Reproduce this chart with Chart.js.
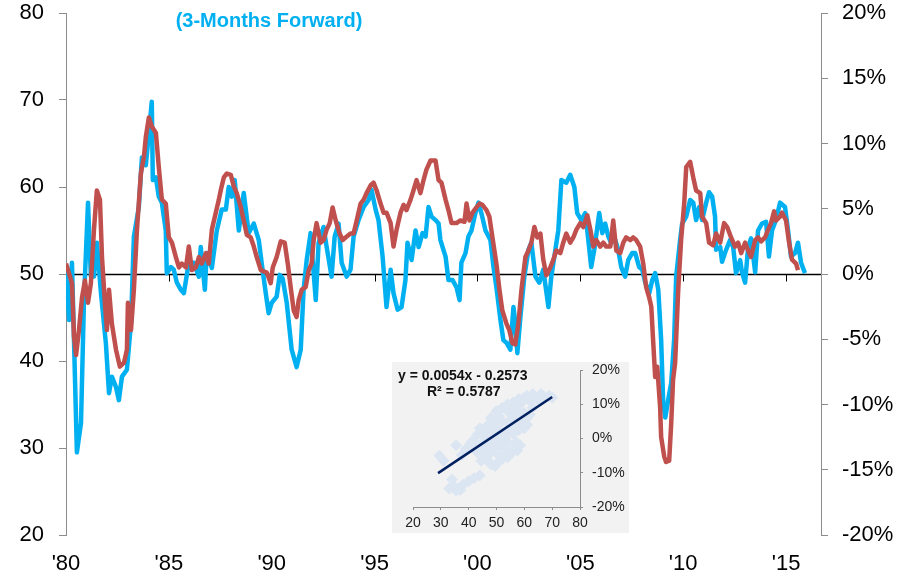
<!DOCTYPE html>
<meta charset="utf-8">
<head>
  <title>ISM 3-months forward vs growth</title>
  <style>
    html, body {
      margin: 0;
      padding: 0;
      background: #fff;
    }
    .container {
      position: relative;
      width: 917px;
      height: 578px;
    }
    #chart {
      position: absolute;
      left: 0;
      top: 0;
    }
    #inset {
      position: absolute;
      left: 392px;
      top: 362px;
      background: #f2f2f2;
    }
  </style>
</head>

<body>
  <div class="container">
    <canvas id="chart" width="917" height="578"></canvas>
    <canvas id="inset" width="237" height="171"></canvas>
  </div>

<script src="https://cdn.jsdelivr.net/npm/chart.js"></script>
<script>
  // blue line, left axis (index level), shifted 3 months forward
  var blueDates = [
    1980.00,1980.15,1980.29,1980.53,1980.73,1980.87,1981.07,1981.21,1981.36,1981.50,
    1981.70,1981.94,1982.09,1982.23,1982.43,1982.57,1982.72,1982.96,1983.16,1983.30,
    1983.54,1983.69,1983.88,1984.03,1984.17,1984.22,1984.37,1984.51,1984.66,1984.85,
    1984.90,1985.10,1985.24,1985.39,1985.58,1985.73,1985.97,1986.21,1986.46,1986.55,
    1986.75,1986.84,1987.09,1987.33,1987.57,1987.77,1987.91,1988.06,1988.20,1988.40,
    1988.64,1988.88,1989.13,1989.37,1989.51,1989.71,1989.85,1990.00,1990.24,1990.39,
    1990.53,1990.73,1990.97,1991.21,1991.41,1991.55,1991.70,1991.89,1992.14,1992.28,
    1992.52,1992.67,1992.91,1993.06,1993.25,1993.40,1993.64,1993.83,1993.98,1994.22,
    1994.47,1994.71,1994.85,1995.05,1995.19,1995.39,1995.58,1995.78,1995.92,1996.12,
    1996.31,1996.50,1996.60,1996.80,1996.99,1997.14,1997.33,1997.48,1997.62,1997.77,
    1997.96,1998.11,1998.20,1998.45,1998.59,1998.79,1998.98,1999.13,1999.22,1999.42,
    1999.56,1999.71,1999.90,2000.05,2000.19,2000.39,2000.63,2000.78,2000.92,2001.12,
    2001.26,2001.41,2001.60,2001.75,2001.84,2001.94,2002.09,2002.28,2002.48,2002.62,
    2002.82,2003.01,2003.20,2003.45,2003.59,2003.79,2003.93,2004.08,2004.32,2004.51,
    2004.71,2004.85,2005.05,2005.24,2005.39,2005.53,2005.68,2005.92,2006.07,2006.21,
    2006.36,2006.50,2006.70,2006.84,2006.99,2007.18,2007.33,2007.52,2007.67,2007.86,
    2008.01,2008.16,2008.35,2008.50,2008.64,2008.79,2008.93,2009.03,2009.13,2009.27,
    2009.42,2009.56,2009.66,2009.85,2009.95,2010.15,2010.34,2010.49,2010.63,2010.78,
    2010.92,2011.12,2011.26,2011.41,2011.55,2011.60,2011.80,2011.89,2012.09,2012.28,
    2012.43,2012.57,2012.77,2012.86,2013.01,2013.16,2013.30,2013.50,2013.64,2013.83,
    2014.03,2014.17,2014.32,2014.51,2014.71,2014.95,2015.10,2015.24,2015.44,2015.58,
    2015.73,2015.92
  ];
  var blueValues = [
    50.5,44.7,51.3,29.5,32.9,46.7,58.2,49.7,49.7,53.6,
    47.8,42.0,36.3,38.2,37.0,35.5,38.2,39.0,44.4,54.3,
    57.7,63.4,62.5,66.2,69.8,60.8,61.1,58.9,58.2,55.0,
    50.1,50.8,50.5,49.0,48.2,47.8,51.3,51.3,49.7,53.1,
    48.2,52.4,50.7,55.0,57.4,57.4,60.0,58.9,60.8,55.0,
    59.3,54.7,55.8,53.9,51.3,47.8,45.5,46.7,47.4,49.9,
    49.5,46.7,41.3,39.3,41.3,48.2,51.6,54.7,47.0,53.6,
    55.4,53.1,49.7,54.3,55.8,51.3,49.7,50.5,54.3,56.2,
    57.7,58.5,59.7,57.4,56.2,52.0,46.2,50.5,47.8,45.9,
    46.2,49.3,53.6,51.6,55.0,53.1,54.7,54.3,57.7,56.6,
    56.2,55.8,53.9,52.0,49.3,49.3,48.5,47.0,51.3,52.4,
    54.3,55.0,57.0,58.2,57.0,55.0,53.9,50.8,48.5,44.7,
    42.4,42.1,41.3,46.2,44.4,40.9,45.1,49.7,52.8,53.6,
    49.7,49.0,50.5,46.2,49.7,52.8,55.0,60.8,60.5,61.4,
    60.0,57.0,56.2,57.0,53.9,50.8,52.8,57.0,54.7,55.8,
    54.3,53.6,53.9,52.8,50.8,49.7,51.6,52.4,52.4,50.8,
    50.5,49.0,47.8,49.3,50.1,48.2,42.4,35.2,33.5,35.5,
    37.5,42.4,49.7,53.9,55.8,56.6,58.5,58.2,56.2,57.7,
    56.2,58.2,59.4,58.9,56.6,52.8,53.1,51.4,52.8,53.9,
    53.1,50.1,51.6,50.2,49.0,53.1,54.1,50.2,55.0,55.8,
    56.0,52.0,55.0,56.2,58.2,57.7,55.0,52.0,52.4,53.6,
    51.3,50.1
  ];

  // red line, right axis (% growth)
  var redDates = [
    1980.00,1980.10,1980.29,1980.39,1980.49,1980.63,1980.78,1980.92,1981.07,1981.21,
    1981.36,1981.50,1981.65,1981.75,1981.89,1981.99,1982.09,1982.23,1982.43,1982.62,
    1982.82,1982.96,1983.01,1983.16,1983.30,1983.45,1983.64,1983.79,1983.88,1984.03,
    1984.17,1984.37,1984.51,1984.66,1984.85,1985.00,1985.15,1985.34,1985.49,1985.63,
    1985.83,1985.97,1986.12,1986.31,1986.46,1986.60,1986.80,1986.94,1987.09,1987.28,
    1987.43,1987.52,1987.67,1987.82,1988.01,1988.16,1988.30,1988.50,1988.64,1988.79,
    1988.98,1989.13,1989.27,1989.47,1989.61,1989.76,1989.95,1990.05,1990.24,1990.44,
    1990.63,1990.78,1990.92,1991.07,1991.21,1991.31,1991.46,1991.65,1991.80,1991.94,
    1992.04,1992.18,1992.38,1992.52,1992.67,1992.82,1992.96,1993.11,1993.30,1993.45,
    1993.59,1993.83,1993.98,1994.13,1994.32,1994.47,1994.61,1994.81,1994.95,1995.10,
    1995.29,1995.44,1995.58,1995.78,1995.92,1996.07,1996.26,1996.41,1996.55,1996.75,
    1996.89,1997.04,1997.23,1997.38,1997.52,1997.72,1997.86,1997.96,1998.11,1998.25,
    1998.45,1998.59,1998.74,1998.98,1999.17,1999.37,1999.47,1999.61,1999.76,1999.95,
    2000.10,2000.24,2000.44,2000.58,2000.73,2000.92,2001.07,2001.21,2001.41,2001.55,
    2001.70,2001.84,2001.99,2002.14,2002.33,2002.48,2002.62,2002.77,2002.91,2003.06,
    2003.20,2003.35,2003.54,2003.69,2003.83,2004.03,2004.17,2004.32,2004.51,2004.66,
    2004.81,2005.00,2005.15,2005.34,2005.49,2005.63,2005.78,2005.97,2006.12,2006.26,
    2006.46,2006.60,2006.75,2006.94,2007.09,2007.23,2007.43,2007.57,2007.72,2007.91,
    2008.06,2008.20,2008.35,2008.45,2008.54,2008.64,2008.74,2008.88,2008.93,2009.08,
    2009.17,2009.32,2009.42,2009.51,2009.61,2009.76,2009.90,2010.05,2010.15,2010.34,
    2010.49,2010.63,2010.83,2010.92,2011.12,2011.26,2011.46,2011.60,2011.80,2011.99,
    2012.14,2012.33,2012.52,2012.67,2012.82,2013.01,2013.16,2013.30,2013.50,2013.64,
    2013.79,2013.98,2014.13,2014.27,2014.42,2014.51,2014.71,2014.81,2015.00,2015.15,
    2015.29,2015.49,2015.58
  ];
  var redValues = [
    0.8,0.3,-0.7,-4.8,-6.2,-4.3,-1.8,-0.5,-2.2,-0.7,
    3.4,6.4,5.7,1.3,-2.2,-4.3,-1.2,-3.8,-5.8,-7.1,
    -6.8,-5.8,-2.2,-4.3,-1.2,3.4,7.7,9.0,10.5,12.0,
    11.3,10.8,8.2,5.7,5.4,2.8,2.4,1.3,0.5,0.8,
    0.5,2.1,0.3,0.5,1.3,0.8,1.6,0.8,3.4,4.7,
    5.7,6.4,7.4,7.7,7.6,6.7,6.2,5.1,4.1,3.0,
    2.8,2.1,1.3,0.3,0.2,0.1,-0.7,0.5,1.3,2.5,
    2.4,0.8,-1.0,-2.8,-3.3,-2.0,-1.2,-1.0,0.3,0.8,
    2.6,3.9,2.4,2.6,3.4,3.9,5.1,4.1,3.1,2.6,
    2.8,3.1,3.1,4.1,5.4,5.7,6.2,6.8,7.0,6.4,
    5.4,4.7,4.7,3.9,2.1,3.4,4.7,5.3,4.9,5.7,
    6.4,7.2,6.2,7.2,8.0,8.7,8.7,8.7,7.2,7.0,
    5.7,4.9,3.9,3.9,4.1,4.0,5.4,4.1,4.7,5.1,
    5.4,5.3,4.9,4.4,2.8,0.8,-1.2,-2.8,-3.8,-4.3,
    -5.3,-5.4,-3.8,-1.2,1.3,1.8,2.4,3.6,2.8,3.1,
    1.1,-0.1,0.5,1.1,1.8,1.6,2.4,3.1,2.4,2.8,
    3.4,3.9,3.6,4.5,3.4,2.1,2.6,2.1,2.4,2.1,
    2.1,4.1,1.8,1.6,2.4,2.8,2.6,2.8,2.6,2.1,
    0.8,-1.0,-1.8,-2.5,-5.1,-7.9,-7.1,-10.2,-12.5,-14.0,
    -14.4,-14.3,-11.4,-8.1,-6.8,-1.2,2.6,5.4,8.2,8.6,
    7.4,6.4,6.2,4.4,3.9,2.4,2.2,3.1,2.4,3.9,
    3.6,2.8,2.1,2.4,1.6,2.4,1.8,1.3,2.6,2.8,
    2.5,2.8,3.4,3.9,4.8,4.1,4.4,4.7,4.1,2.4,
    1.1,0.8,0.3
  ];

  // inset scatter: index level (x) against % growth (y)
  var scatterX = [29.5,31,33,34.5,35.5,36.5,38,40,42,44,34,37,
    35.5,37.5,39,40.5,42,43,44,45,46.5,48,49.5,50.5,52,54,56,58.5,
    45,46,47.5,48,49,50,51,52,53,54,55,56,57,58,59,60,61,62,63,64,65,66,67,69,70,
    50,52,54,56,58,57,53,46,48,55,60,58,62,47,51,44.5,49,53.5,56.5,
    41,43,44,47,48,50,52,54,56,58,60,61,63,59,61,57,55,53,51,49,47,45,51,55,57.5];
  var scatterY = [-5,-6.5,-14.6,-13.8,-15.2,-14.5,-13.5,-12.5,-11.5,-10.8,-12,-15,
    -2,-4.8,-3,-2,-1,-4,-2,1,-6,-7.5,-8,-7,-6,-5.5,-3,-2,
    1,0,-1,2,4.5,3,6.5,5,2,8,4,7,9,5,10.5,3,4,11,9,12,11,13,12,12.5,12,
    0,1,-1,1.5,2.5,-1,-3,-3,-4,5.5,7.5,8,7,3,-2,-6.5,0.5,-4.5,5,
    -1,1,3,4,6,8,9,10,10.5,11.5,12,12.5,13,6,6,4,2,0,-2,-3,-2,-4,-5,-4.5,-3.5];
  var fitX = [29, 70];
  var fitY = [-10.1, 12.1];

  var FONT = "'Liberation Sans', Arial, sans-serif";
  var axisGrey = '#8c8c8c';

  function toPoints(xs, ys) {
    return xs.map(function(x, i) { return { x: x, y: ys[i] }; });
  }

  // keep the tick padding from pushing the plot area down
  function fixWidth(w, top) {
    return function(s) {
      s.width = w;
      s.paddingTop = top;
      s.paddingBottom = 0;
    };
  }

  // black line at 50 with the year ticks hanging from it
  var fiftyLine = {
    id: 'fiftyLine',
    beforeDatasetsDraw: function(chart) {
      var ctx = chart.ctx, area = chart.chartArea;
      var y = Math.round(chart.scales.y.getPixelForValue(50)) + 0.5;
      ctx.save();
      ctx.strokeStyle = '#000';
      ctx.lineWidth = 1.5;
      ctx.beginPath();
      ctx.moveTo(area.left, y);
      ctx.lineTo(area.right, y);
      ctx.stroke();
      ctx.lineWidth = 1;
      ctx.beginPath();
      chart.scales.x.ticks.forEach(function(t) {
        var x = Math.round(chart.scales.x.getPixelForValue(t.value)) + 0.5;
        ctx.moveTo(x, y);
        ctx.lineTo(x, y + 7);
      });
      ctx.stroke();
      ctx.restore();
    }
  };

  var headText = {
    id: 'headText',
    afterDraw: function(chart) {
      var ctx = chart.ctx;
      ctx.save();
      ctx.font = 'bold 20px ' + FONT;
      ctx.fillStyle = '#00b0f0';
      ctx.textAlign = 'center';
      ctx.textBaseline = 'middle';
      ctx.fillText('(3-Months Forward)', 269, 21);
      ctx.restore();
    }
  };

  var equationText = {
    id: 'equationText',
    afterDraw: function(chart) {
      var ctx = chart.ctx;
      ctx.save();
      ctx.font = 'bold 14px ' + FONT;
      ctx.fillStyle = '#111';
      ctx.textBaseline = 'alphabetic';
      ctx.fillText('y = 0.0054x - 0.2573', 6, 18);
      ctx.fillText('R\u00b2 = 0.5787', 35, 34);
      ctx.restore();
    }
  };

  var sideGrid = { drawOnChartArea: false, tickLength: 7, color: axisGrey };

  var chart = new Chart('chart', {
    type: 'line',
    data: {
      datasets: [{
        label: 'Growth',
        data: toPoints(redDates, redValues),
        yAxisID: 'y2',
        borderColor: '#c0504d',
        borderWidth: 4.5,
        pointRadius: 0,
        tension: 0,
        borderJoinStyle: 'round',
        order: 0
      }, {
        label: 'Index (3-Months Forward)',
        data: toPoints(blueDates, blueValues),
        yAxisID: 'y',
        borderColor: '#00b0f0',
        borderWidth: 4.5,
        pointRadius: 0,
        tension: 0,
        borderJoinStyle: 'round',
        order: 1
      }]
    },
    options: {
      responsive: false,
      animation: false,
      layout: { padding: { top: 13, left: 0, right: 0, bottom: 0 } },
      plugins: {
        legend: { display: false },
        tooltip: { enabled: false }
      },
      scales: {
        x: {
          type: 'linear',
          min: 1980,
          max: 2016.7,
          afterFit: function(s) { s.height = 43; },
          grid: { display: false, drawTicks: false },
          border: { display: false },
          ticks: {
            stepSize: 5,
            includeBounds: false,
            autoSkip: false,
            maxRotation: 0,
            padding: 16,
            color: '#000',
            font: { family: FONT, size: 22 },
            callback: function(v) { return "'" + String(v).slice(2); }
          }
        },
        y: {
          position: 'left',
          min: 20,
          max: 80,
          afterFit: fixWidth(66, 0),
          grid: sideGrid,
          border: { color: axisGrey },
          ticks: { stepSize: 10, padding: 15, color: '#000', font: { family: FONT, size: 22 } }
        },
        y2: {
          position: 'right',
          min: -20,
          max: 20,
          afterFit: fixWidth(96, 0),
          grid: sideGrid,
          border: { color: axisGrey },
          ticks: {
            stepSize: 5, padding: 14, color: '#000', font: { family: FONT, size: 22 },
            callback: function(v) { return v + '%'; }
          }
        }
      }
    },
    plugins: [fiftyLine, headText]
  });

  var insetGrid = { drawOnChartArea: false, tickLength: 3, color: axisGrey };

  var inset = new Chart('inset', {
    type: 'scatter',
    data: {
      datasets: [{
        type: 'line',
        data: toPoints(fitX, fitY),
        borderColor: '#002060',
        borderWidth: 2.5,
        pointRadius: 0,
        order: 0
      }, {
        data: toPoints(scatterX, scatterY),
        pointStyle: 'rectRot',
        pointRadius: 6,
        backgroundColor: '#dce6f2',
        borderWidth: 0,
        order: 1
      }]
    },
    options: {
      responsive: false,
      animation: false,
      layout: { padding: { left: 21, top: 8, right: 0, bottom: 0 } },
      plugins: {
        legend: { display: false },
        tooltip: { enabled: false }
      },
      scales: {
        x: {
          type: 'linear',
          min: 20,
          max: 80,
          afterFit: function(s) { s.height = 26; },
          grid: insetGrid,
          border: { color: axisGrey },
          ticks: { stepSize: 10, padding: 5, color: '#222', font: { family: FONT, size: 14 } }
        },
        y: {
          position: 'right',
          min: -20,
          max: 20,
          afterFit: fixWidth(49, 0),
          grid: insetGrid,
          border: { color: axisGrey },
          ticks: {
            stepSize: 10, padding: 9, color: '#222', font: { family: FONT, size: 14 },
            callback: function(v) { return v + '%'; }
          }
        }
      }
    },
    plugins: [equationText]
  });
</script>
</body>
</html>
